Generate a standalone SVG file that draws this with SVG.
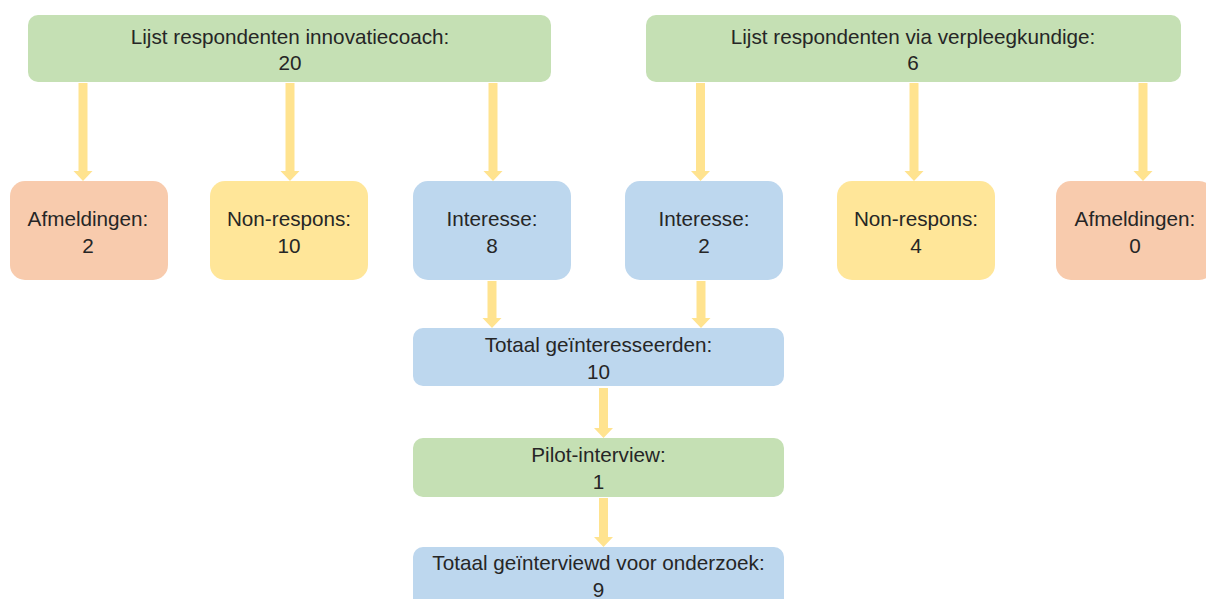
<svg xmlns="http://www.w3.org/2000/svg" width="1206" height="599" viewBox="0 0 1206 599">
  <style>
    .green { fill: #C5E0B4; }
    .orange { fill: #F8CBAD; }
    .yellow { fill: #FFE699; }
    .blue { fill: #BDD7EE; }
    .arrow { fill: #FFE38F; }
    text { font-family: "Liberation Sans", Arial, sans-serif; font-size: 20.7px; fill: #262626; text-anchor: middle; }
  </style>

  <!-- connectors: thick arrows drawn as filled shapes -->
  <g id="connectors">
    <!-- from innovatiecoach list -->
    <path class="arrow" d="M78.5,83 H87.5 V171 H92.5 L83,181 L73.5,171 H78.5 Z"/>
    <path class="arrow" d="M285.5,83 H294.5 V171 H299.5 L290,181 L280.5,171 H285.5 Z"/>
    <path class="arrow" d="M488.5,83 H497.5 V171 H502.5 L493,181 L483.5,171 H488.5 Z"/>
    <!-- from verpleegkundige list -->
    <path class="arrow" d="M696,83 H705 V171 H710 L700.5,181 L691,171 H696 Z"/>
    <path class="arrow" d="M909.5,83 H918.5 V171 H923.5 L914,181 L904.5,171 H909.5 Z"/>
    <path class="arrow" d="M1138.5,83 H1147.5 V171 H1152.5 L1143,181 L1133.5,171 H1138.5 Z"/>
    <!-- interest boxes to total -->
    <path class="arrow" d="M487.5,281 H496.5 V318 H501.5 L492,328 L482.5,318 H487.5 Z"/>
    <path class="arrow" d="M696.5,281 H705.5 V318 H710.5 L701,328 L691.5,318 H696.5 Z"/>
    <!-- total to pilot, pilot to interviewed -->
    <path class="arrow" d="M599,388 H608 V428 H613 L603.5,438 L594,428 H599 Z"/>
    <path class="arrow" d="M599,498 H608 V537 H613 L603.5,547 L594,537 H599 Z"/>
  </g>

  <g id="lijst-innovatiecoach">
    <rect class="green" x="28" y="15" width="523" height="67" rx="10"/>
    <text x="290" y="43.5">Lijst respondenten innovatiecoach:</text>
    <text x="290" y="70">20</text>
  </g>

  <g id="lijst-verpleegkundige">
    <rect class="green" x="646" y="15" width="535" height="67" rx="10"/>
    <text x="913" y="43.5">Lijst respondenten via verpleegkundige:</text>
    <text x="913" y="70">6</text>
  </g>

  <g id="afmeldingen-1">
    <rect class="orange" x="10" y="181" width="158" height="99" rx="15"/>
    <text x="88" y="225.5">Afmeldingen:</text>
    <text x="88" y="252.5">2</text>
  </g>

  <g id="nonrespons-1">
    <rect class="yellow" x="210" y="181" width="158" height="99" rx="15"/>
    <text x="289" y="225.5">Non-respons:</text>
    <text x="289" y="252.5">10</text>
  </g>

  <g id="interesse-1">
    <rect class="blue" x="413" y="181" width="158" height="99" rx="15"/>
    <text x="492" y="225.5">Interesse:</text>
    <text x="492" y="252.5">8</text>
  </g>

  <g id="interesse-2">
    <rect class="blue" x="625" y="181" width="158" height="99" rx="15"/>
    <text x="704" y="225.5">Interesse:</text>
    <text x="704" y="252.5">2</text>
  </g>

  <g id="nonrespons-2">
    <rect class="yellow" x="837" y="181" width="158" height="99" rx="15"/>
    <text x="916" y="225.5">Non-respons:</text>
    <text x="916" y="252.5">4</text>
  </g>

  <g id="afmeldingen-2">
    <rect class="orange" x="1056" y="181" width="158" height="99" rx="15"/>
    <text x="1135" y="225.5">Afmeldingen:</text>
    <text x="1135" y="252.5">0</text>
  </g>

  <g id="totaal-geinteresseerden">
    <rect class="blue" x="413" y="328" width="371" height="58" rx="10"/>
    <text x="598.5" y="352">Totaal geïnteresseerden:</text>
    <text x="598.5" y="378.5">10</text>
  </g>

  <g id="pilot-interview">
    <rect class="green" x="413" y="438" width="371" height="59" rx="10"/>
    <text x="598.5" y="462">Pilot-interview:</text>
    <text x="598.5" y="488.5">1</text>
  </g>

  <g id="totaal-geinterviewd">
    <rect class="blue" x="413" y="547" width="371" height="70" rx="10"/>
    <text x="598.5" y="570">Totaal geïnterviewd voor onderzoek:</text>
    <text x="598.5" y="596.5">9</text>
  </g>
</svg>
